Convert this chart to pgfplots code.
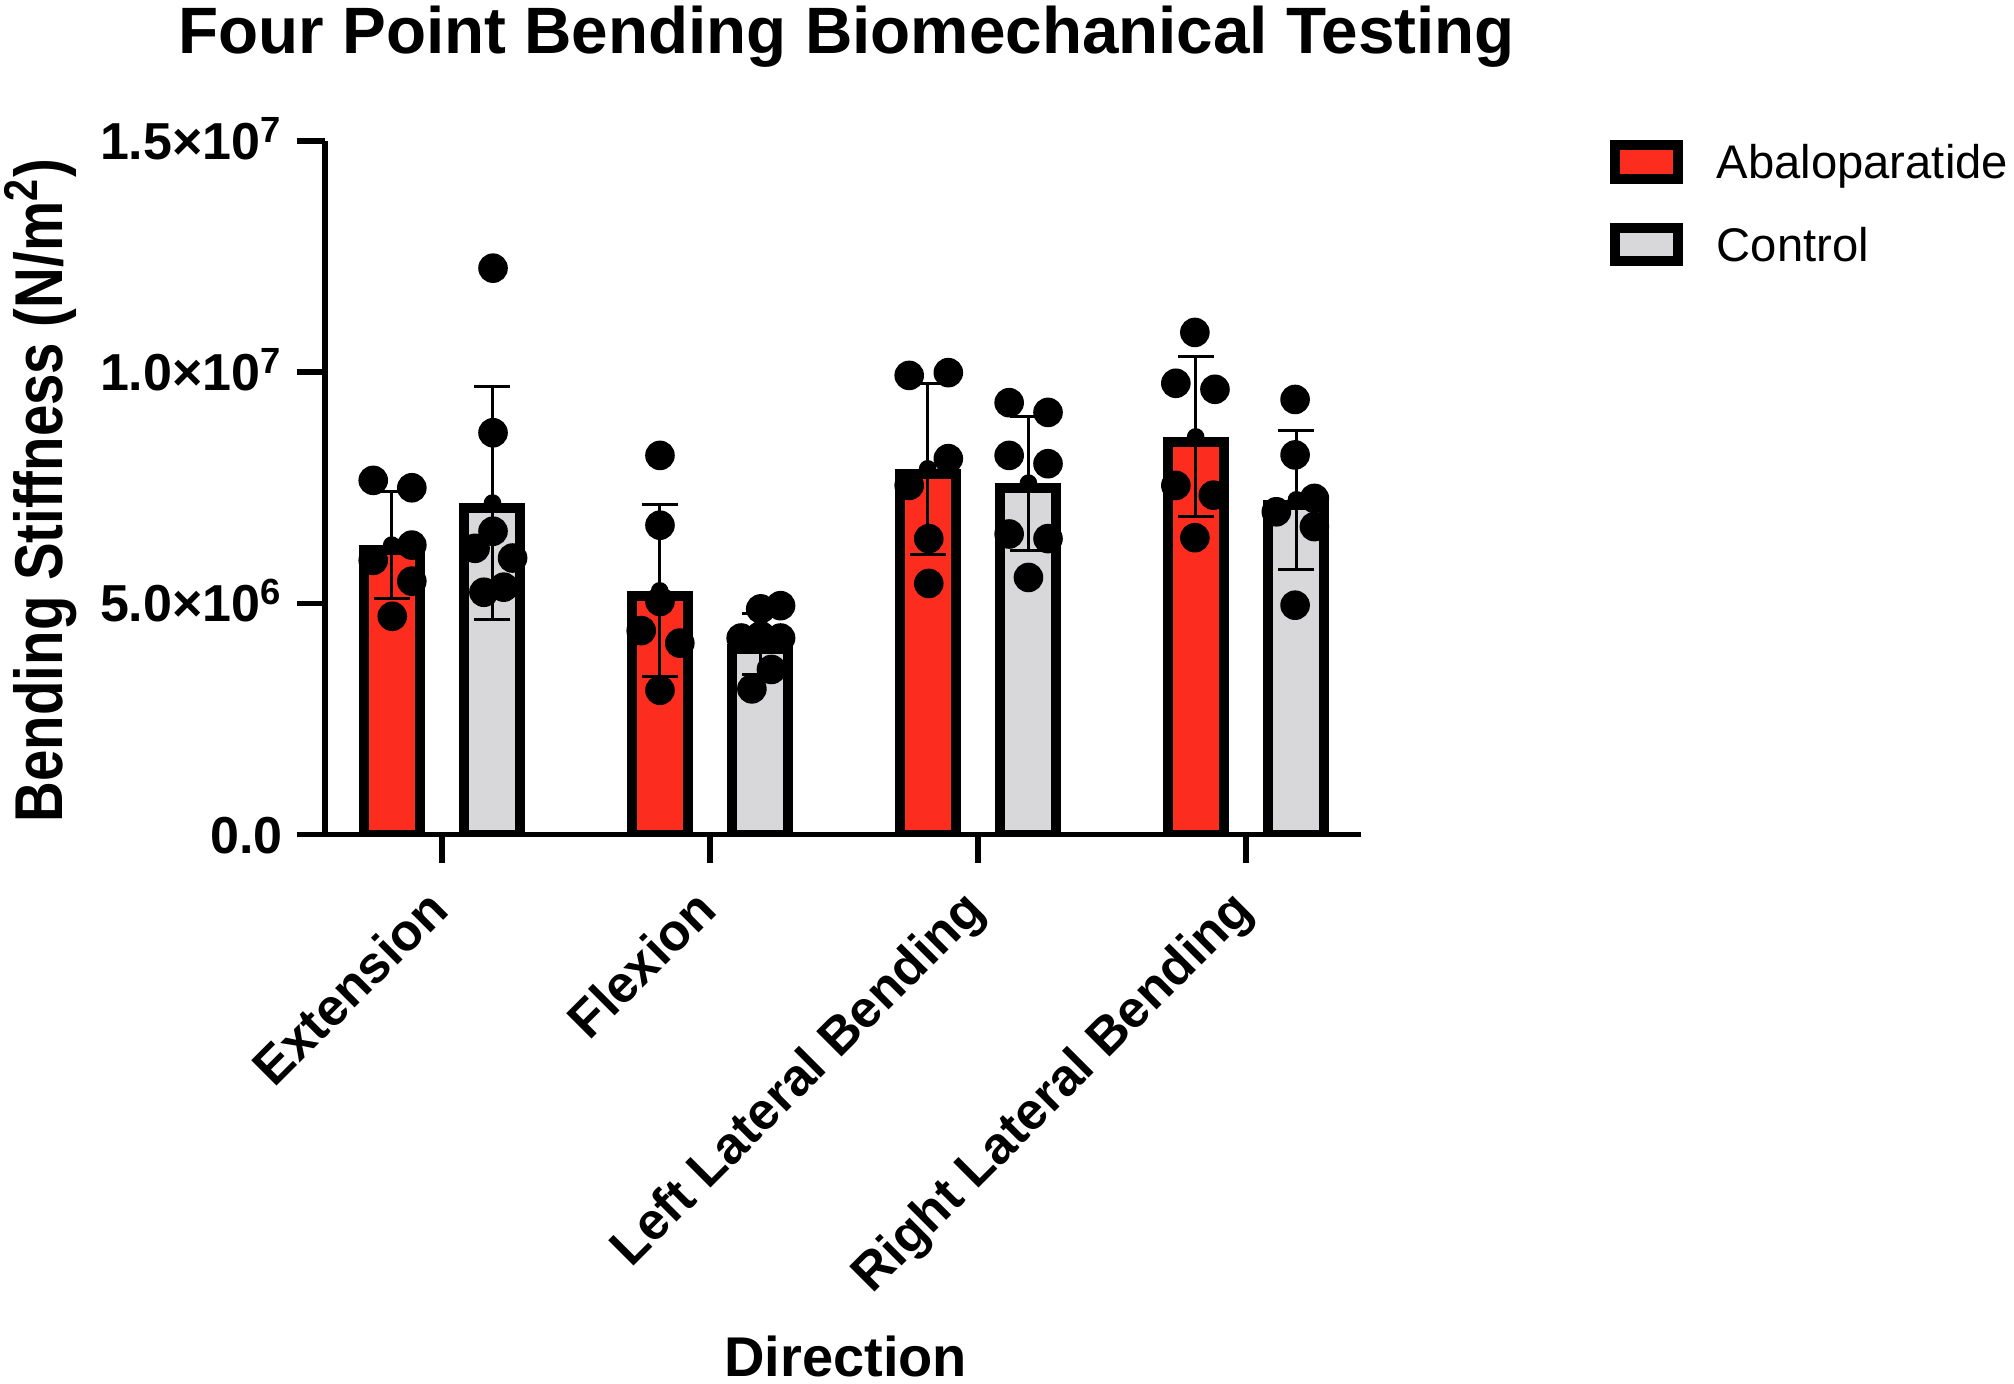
\documentclass[border=0pt]{standalone}
\usepackage{graphicx}
\usepackage{pgfplots}
\pgfplotsset{compat=1.18}
\usepackage{fontspec}
\setmainfont{Liberation Sans}
\definecolor{abared}{RGB}{252,44,30}
\definecolor{ctrlgray}{RGB}{216,216,218}
\begin{document}
\begin{tikzpicture}
\path (-81.25pt,-137.125pt) rectangle (422.25pt,208.625pt);
\begin{axis}[
  at={(0pt,0pt)}, anchor=south west,
  scale only axis, width=259pt, height=173.375pt,
  xmin=-0.437, xmax=3.429, ymin=0, ymax=1.5e7,
  axis x line*=bottom, axis y line*=left,
  axis line style={line width=1.4pt},
  xtick={0,1,2,3},
  xticklabels={Extension, Flexion, Left Lateral Bending, Right Lateral Bending},
  ytick={0,5e6,1e7,1.5e7},
  yticklabels={0.0, 5.0×10\textsuperscript{6}, 1.0×10\textsuperscript{7}, 1.5×10\textsuperscript{7}},
  scaled y ticks=false,
  tick align=outside, major tick length=7.1pt,
  tick style={line width=1.4pt, black},
  ticklabel style={font=\bfseries\fontsize{13}{15}\selectfont},
  xticklabel style={xshift=2.25pt, yshift=-12.3pt, rotate=45, anchor=base east, inner sep=0pt},
  yticklabel style={xshift=-3.25pt, yshift=-4.65pt, anchor=base east, inner sep=0pt},
  every axis title/.style={at={(axis description cs:0.5034,1.1264)}, anchor=base, inner sep=0pt, font=\bfseries\fontsize{16.4}{19}\selectfont},
  title={Four Point Bending Biomechanical Testing},
  every axis x label/.style={at={(axis description cs:0.5026,-0.7822)}, anchor=base, inner sep=0pt, font=\bfseries\fontsize{14}{17}\selectfont},
  xlabel={Direction},
  every axis y label/.style={at={(axis description cs:-0.2529,0.496)}, rotate=90, anchor=base, inner sep=0pt, font=\bfseries\fontsize{14.1}{17}\selectfont},
  ylabel={\scalebox{1}[1.2]{Bending Stiffness (N/m\textsuperscript{2})}},
  legend style={at={(axis description cs:1.2403,1.0030)}, anchor=north west, draw=none, fill=none, inner sep=0pt, outer sep=0pt,
    font=\fontsize{11.8}{14}\selectfont, row sep=9.1pt, column sep=8.5pt, nodes={inner sep=0pt}},
  legend cell align=left,
]
\addplot[ybar, bar width=14pt, bar shift=0pt, fill=abared, draw=black, line width=2.5pt,
  legend image code/.code={\draw[fill=abared, draw=black, line width=2.5pt] (0pt,-4.175pt) rectangle (15.7pt,4.175pt);}]
  coordinates {(-0.188,6.15e6) (0.812,5.16e6) (1.812,7.80e6) (2.812,8.49e6)};
\addlegendentry{\raisebox{0pt}[10pt][2pt]{Abaloparatide}}
\addplot[ybar, bar width=14pt, bar shift=0pt, fill=ctrlgray, draw=black, line width=2.5pt,
  legend image code/.code={\draw[fill=ctrlgray, draw=black, line width=2.5pt] (0pt,-4.175pt) rectangle (15.7pt,4.175pt);}]
  coordinates {(0.188,7.06e6) (1.188,4.02e6) (2.188,7.49e6) (3.188,7.13e6)};
\addlegendentry{\raisebox{0pt}[10pt][2pt]{Control}}
% error bars (mean +- SD)
\addplot[black, only marks, mark=none, forget plot,
  error bars/.cd, y dir=both, y explicit,
  error bar style={line width=0.75pt},
  error mark options={rotate=90, mark size=4.5pt, line width=0.75pt}]
  coordinates {
  (-0.188,6.26e6) +- (0,1.15e6)
  (0.188,7.17e6) +- (0,2.52e6)
  (0.812,5.27e6) +- (0,1.86e6)
  (1.188,4.13e6) +- (0,0.66e6)
  (1.812,7.91e6) +- (0,1.85e6)
  (2.188,7.60e6) +- (0,1.45e6)
  (2.812,8.60e6) +- (0,1.73e6)
  (3.188,7.24e6) +- (0,1.50e6)
  };
% individual points
\addplot[only marks, mark=*, mark size=3.5pt, black, forget plot] coordinates {
  (-0.257,7.66e6) (-0.113,7.50e6) (-0.113,6.26e6) (-0.257,5.93e6) (-0.113,5.48e6) (-0.186,4.72e6)
  (0.190,12.25e6) (0.190,8.69e6) (0.190,6.56e6) (0.123,6.19e6) (0.263,5.98e6) (0.156,5.24e6) (0.230,5.35e6)
  (0.813,8.20e6) (0.813,6.69e6) (0.813,5.04e6) (0.743,4.41e6) (0.887,4.14e6) (0.813,3.12e6)
  (1.189,4.88e6) (1.263,4.95e6) (1.116,4.25e6) (1.189,4.30e6) (1.263,4.25e6) (1.229,3.57e6) (1.156,3.15e6)
  (1.743,9.93e6) (1.889,9.99e6) (1.889,8.13e6) (1.743,7.55e6) (1.816,6.40e6) (1.816,5.43e6)
  (2.116,9.34e6) (2.261,9.13e6) (2.116,8.20e6) (2.261,8.02e6) (2.116,6.50e6) (2.261,6.40e6) (2.188,5.56e6)
  (2.809,10.86e6) (2.738,9.76e6) (2.884,9.63e6) (2.738,7.55e6) (2.878,7.34e6) (2.809,6.42e6)
  (3.183,9.41e6) (3.183,8.21e6) (3.255,7.27e6) (3.113,6.98e6) (3.255,6.66e6) (3.183,4.96e6)
};
\end{axis}
\end{tikzpicture}
\end{document}
